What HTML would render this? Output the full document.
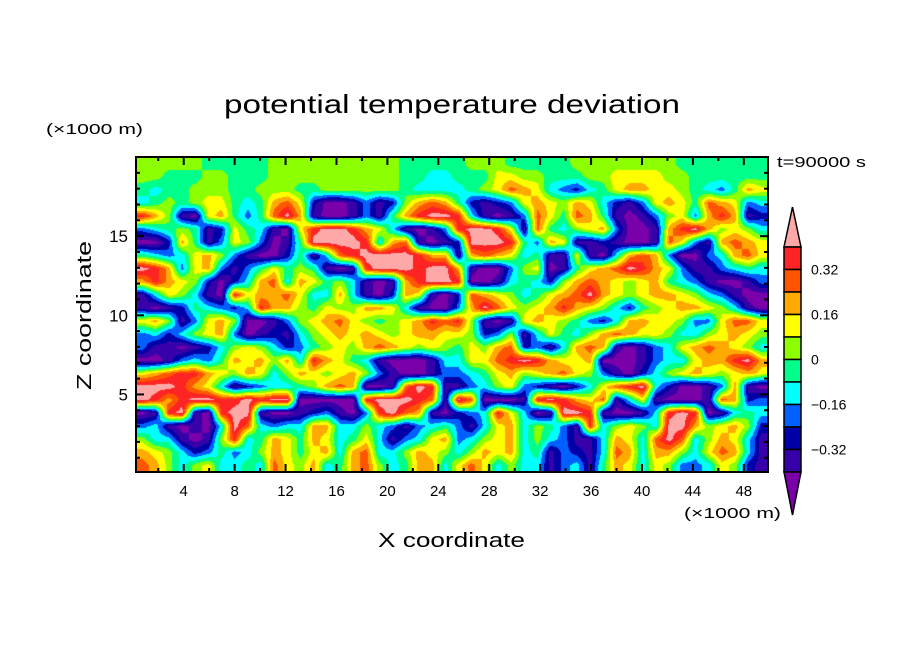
<!DOCTYPE html>
<html><head><meta charset="utf-8">
<style>
html,body{margin:0;padding:0;background:#fff;width:904px;height:654px;overflow:hidden}
#wrap{position:relative;width:904px;height:654px}
#field{position:absolute;left:136px;top:157px;width:632px;height:315px}
svg{position:absolute;left:0;top:0}
text{font-family:"Liberation Sans","DejaVu Sans",sans-serif;fill:#000}
</style></head>
<body>
<div id="wrap">
<canvas id="field" width="632" height="315"></canvas>
<svg id="svg" width="904" height="654">
<text x="224" y="113" font-size="26" textLength="456" lengthAdjust="spacingAndGlyphs">potential temperature deviation</text>
<text x="46" y="134" font-size="15" textLength="97" lengthAdjust="spacingAndGlyphs">(×1000 m)</text>
<text x="777" y="167" font-size="15" textLength="89" lengthAdjust="spacingAndGlyphs">t=90000 s</text>
<text x="378" y="547" font-size="20" textLength="147" lengthAdjust="spacingAndGlyphs">X coordinate</text>
<text x="684" y="518" font-size="15" textLength="97" lengthAdjust="spacingAndGlyphs">(×1000 m)</text>
<text transform="translate(91,390) rotate(-90)" font-size="20" textLength="149" lengthAdjust="spacingAndGlyphs">Z coordinate</text>
<g id="axes"></g>
<g id="cbar"></g>
</svg>
</div>
<script>
// level index rows (0 = lowest, 11 = highest), top to bottom, 48 columns
const fieldRows = [
"666665555566666666665555"+"566655555666666665555555",
"665556655566666666665544"+"555776655566777766555555",
"545566655666556666665444"+"456798743245788776543587",
"456567754589720013126898"+"521237876874213787598734",
"A8610785359B810013158ABB"+"A4101397598510136738A812",
"3456512754107ABBA8741013"+"ABBA7195467830018AB86764",
"0028513763015BBBBA489101"+"2BBBA5387112100197318987",
"5434786310025149ABBBBA88"+"189874511710489830034897",
"BA837831357565101ABBBABB"+"8100367015789BA873113454",
"8A8762024894875641018ABB"+"A00145426898767854310013",
"1476410A7889744841028710"+"2987645789B8767887643100",
"101254324A88657668874100"+"38B97678A876425678876410",
"7861378600136789765678A9"+"A61017876532488776337997",
"342467830121467878767887"+"762361475468987764467876",
"311012467642356768987676"+"576892314898101347898764",
"0013435878684A8754100014"+"4779ABA87780001344788AB8",
"789AA8768746876786310013"+"345786789763102467876787",
"BBBA87412344568980019BA1"+"1346732102479AB420013810",
"BA8ABBAABABB00000ABBBA91"+"B90001ABA879147100019823",
"01AB10ABB100123103AB9810"+"234A7401BBA10014ABA01454",
"3410104B9434488446431345"+"3147846531A46764BB867862",
"6441016A4587587457413478"+"3467846431148749B9468741",
"876423534687578489446876"+"468784513214984886479841",
"986467445497684589645884"+"797464413415874763347621"
];
const levelColors = ["#7a00aa","#3700a8","#0000a8","#0060ff","#00ffff","#00ff8a","#8cff00","#ffff00","#ffaa00","#ff5500","#ff2424","#ffa8a8"];
const cbarLabels = ["0.32","0.16","0","\u22120.16","\u22120.32"];
const xTickLabels = ["4","8","12","16","20","24","28","32","36","40","44","48"];
const yTickLabels = ["5","10","15"];

const PX0=136, PX1=768, PY0=157, PY1=472;
const XMIN=0.25, XMAX=49.9, YMIN=0.1, YMAX=20;
function xs(v){return PX0+(v-XMIN)/(XMAX-XMIN)*(PX1-PX0);}
function ys(v){return PY1-(v-YMIN)/(YMAX-YMIN)*(PY1-PY0);}

const grid = fieldRows.map(r=>r.split("").map(ch=>parseInt(ch,16)));
const NR=grid.length, NC=grid[0].length;
(function(){
  const cv=document.getElementById('field'), ctx=cv.getContext('2d');
  const W=cv.width,H=cv.height, img=ctx.createImageData(W,H);
  const rgb=levelColors.map(c=>[parseInt(c.substr(1,2),16),parseInt(c.substr(3,2),16),parseInt(c.substr(5,2),16)]);
  const cw=W/NC, ch=H/NR;
  for(let py=0;py<H;py++){
    let fy=(py+0.5)/ch-0.5; fy=Math.max(0,Math.min(NR-1,fy));
    const r0=Math.floor(fy), r1=Math.min(NR-1,r0+1), ty=fy-r0;
    for(let px=0;px<W;px++){
      let fx=(px+0.5)/cw-0.5; fx=Math.max(0,Math.min(NC-1,fx));
      const c0=Math.floor(fx), c1=Math.min(NC-1,c0+1), tx=fx-c0;
      const v=(grid[r0][c0]*(1-tx)+grid[r0][c1]*tx)*(1-ty)+(grid[r1][c0]*(1-tx)+grid[r1][c1]*tx)*ty;
      let l=Math.round(v); l=Math.max(0,Math.min(11,l));
      const k=(py*W+px)*4, c=rgb[l];
      img.data[k]=c[0];img.data[k+1]=c[1];img.data[k+2]=c[2];img.data[k+3]=255;
    }
  }
  ctx.putImageData(img,0,0);
})();

const NS="http://www.w3.org/2000/svg";
function mk(tag,attrs,parent){const e=document.createElementNS(NS,tag);for(const k in attrs)e.setAttribute(k,attrs[k]);parent.appendChild(e);return e;}
const axes=document.getElementById('axes');
const frame=mk('rect',{x:PX0,y:PY0,width:PX1-PX0,height:PY1-PY0,fill:'none',stroke:'#000','stroke-width':2},axes);


for(let v=2;v<50;v+=2){
  const major=(v%4===0), L=major?8:4, x=xs(v);
  const t1=mk('line',{x1:x,y1:PY1,x2:x,y2:PY1-L,stroke:'#000','stroke-width':2},axes);
  
  
  const t2=mk('line',{x1:x,y1:PY0,x2:x,y2:PY0+L,stroke:'#000','stroke-width':2},axes);
  
  
}
xTickLabels.forEach(s=>{
  const t=mk('text',{x:xs(+s),y:496,'font-size':15,'text-anchor':'middle'},axes);
  t.textContent=s;
  
  
});
for(let v=1;v<20;v++){
  const major=(v%5===0), L=major?8:4, y=ys(v);
  const t1=mk('line',{x1:PX0,y1:y,x2:PX0+L,y2:y,stroke:'#000','stroke-width':2},axes);
  
  
  const t2=mk('line',{x1:PX1,y1:y,x2:PX1-L,y2:y,stroke:'#000','stroke-width':2},axes);
  
  
}
yTickLabels.forEach(s=>{
  const t=mk('text',{x:128,y:ys(+s)+6,'font-size':17,'text-anchor':'end'},axes);
  t.textContent=s;
  
  
});
const cb=document.getElementById('cbar');
const CBX=784, CBW=17, CBT=247, CBB=472, nBox=10, bh=(CBB-CBT)/nBox;
const cbTop=mk('polygon',{points:`${CBX},${CBT} ${CBX+CBW},${CBT} ${CBX+CBW/2},207`,fill:levelColors[11],stroke:'#000','stroke-width':1.5},cb);


for(let i=0;i<nBox;i++){
  const r=mk('rect',{x:CBX,y:CBT+i*bh,width:CBW,height:bh,fill:levelColors[10-i],stroke:'#000','stroke-width':1.5},cb);
  
  
}
const cbBot=mk('polygon',{points:`${CBX},${CBB} ${CBX+CBW},${CBB} ${CBX+CBW/2},515`,fill:levelColors[0],stroke:'#000','stroke-width':1.5},cb);


cbarLabels.forEach((s,i)=>{
  const t=mk('text',{x:811,y:CBT+(1+2*i)*bh+5,'font-size':14},cb);
  t.textContent=s;
  
  
});
</script>
</body></html>
